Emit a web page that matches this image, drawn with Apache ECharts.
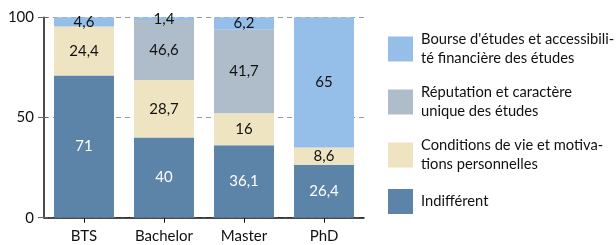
<!DOCTYPE html>
<html>
<head>
<meta charset="utf-8">
<script src="https://cdn.jsdelivr.net/npm/echarts@6/dist/echarts.min.js"></script>
<style>
  html, body { margin: 0; padding: 0; background: #fff; }
  #main { width: 616px; height: 245px; }
</style>
</head>
<body>
<div id="main"></div>
<script>
// categories and values
const categories = ['BTS', 'Bachelor', 'Master', 'PhD'];

const indifferent = [71, 40, 36.1, 26.4];
const conditions = [24.4, 28.7, 16, 8.6];
// bar heights as drawn (Bachelor's grey block is drawn shorter than its printed label)
const reputation = [0, 29.9, 41.7, 0];
const reputationPrinted = ['', '46,6', '41,7', ''];
const bourse = [4.6, 1.4, 6.2, 65];

const yTicks = [0, 50, 100];

const names = [
    'Indifférent',
    'Conditions de vie et motiva-\ntions personnelles',
    'Réputation et caractère\nunique des études',
    'Bourse d\'études et accessibili-\nté financière des études'
];

const colors = ['#5b84a8', '#eee4c1', '#afbcc9', '#95bfe8'];

const FONT = 'Lato';

function fmt(v) {
    return String(v).replace('.', ',');
}

function makeSeries(name, data, color, labelColor, printed) {
    return {
        name: name,
        type: 'bar',
        stack: 'total',
        barWidth: '75%',
        data: data,
        silent: true,
        itemStyle: { color: color },
        label: {
            show: true,
            position: 'inside',
            color: labelColor,
            fontFamily: FONT,
            fontSize: 15,
            formatter: (p) => {
                if (printed) return printed[p.dataIndex];
                return p.value ? fmt(p.value) : '';
            }
        }
    };
}

let chart = echarts.init(document.getElementById('main'), null, { renderer: 'canvas' });

let option = {
    animation: false,
    textStyle: { fontFamily: FONT },
    grid: {
        left: 44,
        right: 252,
        top: 17.3,
        bottom: 27.3,
        containLabel: false
    },
    legend: {
        data: [names[3], names[2], names[1], names[0]],
        orient: 'vertical',
        left: 383,
        top: 25,
        itemWidth: 25,
        itemHeight: 25,
        itemGap: 15,
        icon: 'rect',
        selectedMode: false,
        textStyle: {
            fontFamily: FONT,
            fontSize: 14.7,
            color: '#111',
            lineHeight: 19,
            padding: [0, 0, 0, 3]
        }
    },
    xAxis: {
        type: 'category',
        data: categories,
        axisLine: { lineStyle: { color: '#111', width: 1.5 } },
        axisTick: { show: true, alignWithLabel: true, length: 5, lineStyle: { color: '#111' } },
        axisLabel: { color: '#111', fontFamily: FONT, fontSize: 15, margin: 11 }
    },
    yAxis: [
        {
            type: 'value',
            min: yTicks[0],
            max: yTicks[yTicks.length - 1],
            interval: yTicks[1] - yTicks[0],
            axisLine: { show: true, lineStyle: { color: '#111', width: 1.5 } },
            axisTick: { show: true, length: 6, lineStyle: { color: '#666' } },
            axisLabel: { color: '#111', fontFamily: FONT, fontSize: 15, margin: 10 },
            splitLine: {
                show: true,
                lineStyle: { color: '#999', type: [5, 4], width: 1 }
            }
        },
        {
            // inner half of the crossing tick marks
            type: 'value',
            position: 'left',
            min: yTicks[0],
            max: yTicks[yTicks.length - 1],
            interval: yTicks[1] - yTicks[0],
            axisLine: { show: false },
            axisTick: { show: true, inside: true, length: 4, lineStyle: { color: '#666' } },
            axisLabel: { show: false },
            splitLine: { show: false }
        }
    ],
    series: [
        makeSeries(names[0], indifferent, colors[0], '#fff'),
        makeSeries(names[1], conditions, colors[1], '#111'),
        makeSeries(names[2], reputation, colors[2], '#111', reputationPrinted),
        makeSeries(names[3], bourse, colors[3], '#111')
    ]
};

chart.setOption(option);
</script>
</body>
</html>
